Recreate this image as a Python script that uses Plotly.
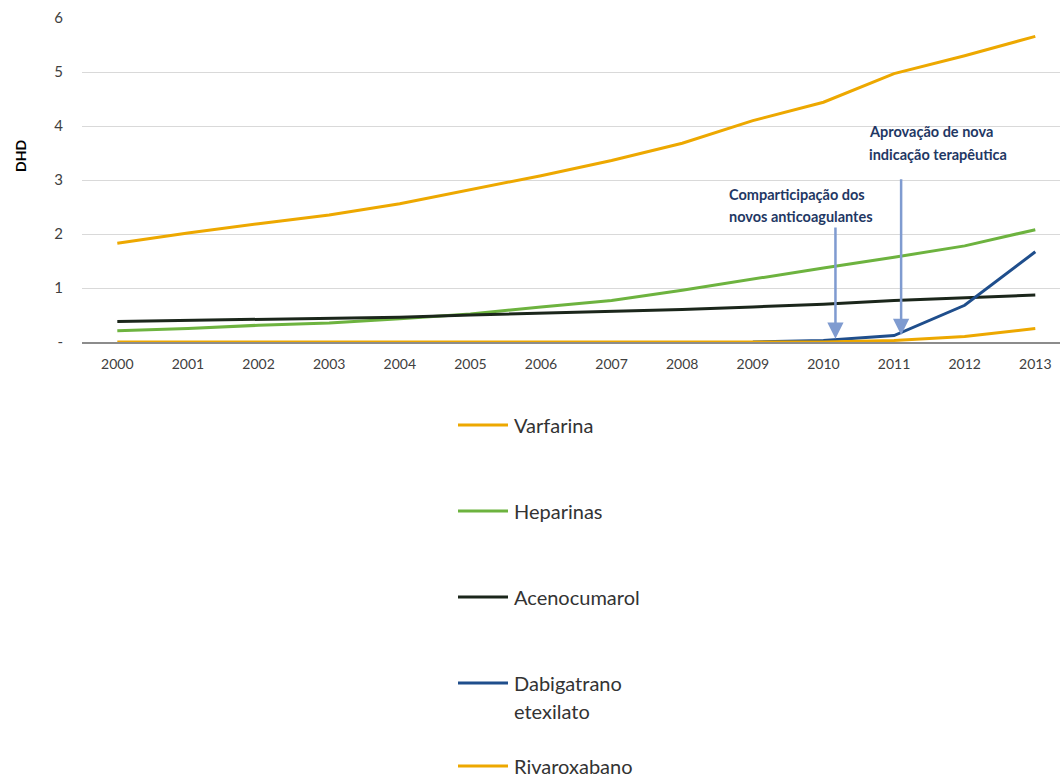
import plotly.graph_objects as go

# Consumption of oral anticoagulants and heparins, DHD, 2000-2013
years = list(range(2000, 2014))

varfarina = [1.83, 2.02, 2.19, 2.35, 2.56, 2.82, 3.08, 3.36, 3.68, 4.10, 4.44, 4.97, 5.30, 5.66]
heparinas = [0.21, 0.25, 0.31, 0.35, 0.43, 0.52, 0.65, 0.77, 0.96, 1.17, 1.37, 1.57, 1.78, 2.08]
acenocumarol = [0.38, 0.40, 0.42, 0.43, 0.46, 0.50, 0.53, 0.56, 0.60, 0.65, 0.70, 0.77, 0.82, 0.87]
dabigatrano = [None, None, None, None, None, None, None, None, None, 0.0, 0.03, 0.12, 0.68, 1.67]
rivaroxabano = [0.0, 0.0, 0.0, 0.0, 0.0, 0.0, 0.0, 0.0, 0.0, 0.0, 0.0, 0.03, 0.10, 0.25]

series_names = ["Varfarina", "Heparinas", "Acenocumarol", "Dabigatrano etexilato", "Rivaroxabano"]
legend_lines = [["Varfarina"], ["Heparinas"], ["Acenocumarol"], ["Dabigatrano", "etexilato"], ["Rivaroxabano"]]
series_values = [varfarina, heparinas, acenocumarol, dabigatrano, rivaroxabano]
series_colors = ["#EDA800", "#6DB33F", "#1B261B", "#1F4E8C", "#EDA800"]

y_tickvals = [0, 1, 2, 3, 4, 5, 6]
y_ticktext = ["-", "1", "2", "3", "4", "5", "6"]
y_title = "DHD"

# Event markers: text lines, arrow year, arrow tip / tail values, text year, first-line value
events = [
    (["Comparticipação dos", "novos anticoagulantes"], 2010.17, 0.06, 2.15, 2008.64, 2.74),
    (["Aprovação de nova", "indicação terapêutica"], 2011.1, 0.13, 3.04, 2010.62, 3.89),
]
EVENT_LINE_STEP = 0.42  # vertical spacing between text lines, in DHD units

FONT = "Lato"

# Plot area geometry (pixels) used for the legend block below the chart
FIG_W, FIG_H = 1060, 778
M_L, M_R, M_T, M_B = 82, 0, 18, 436
PLOT_W = FIG_W - M_L - M_R
PLOT_H = FIG_H - M_T - M_B


def px_to_paper_x(px):
    return (px - M_L) / PLOT_W


def px_to_paper_y(py):
    return (FIG_H - M_B - py) / PLOT_H


fig = go.Figure()
for name, vals, col in zip(series_names, series_values, series_colors):
    fig.add_trace(go.Scatter(
        x=years, y=vals, name=name, mode="lines",
        line=dict(color=col, width=3),
        showlegend=False,
    ))

for lines, xa, ytip, ytail, xt, yt in events:
    fig.add_annotation(
        x=xa, y=ytip, ax=xa, ay=ytail, xref="x", yref="y", axref="x", ayref="y",
        showarrow=True, arrowhead=2, arrowsize=1.3, arrowwidth=2.5,
        arrowcolor="#7F9BD0", text="",
    )
    for i, line in enumerate(lines):
        fig.add_annotation(
            x=xt, y=yt - i * EVENT_LINE_STEP, xref="x", yref="y", text=line,
            showarrow=False, xanchor="left", yanchor="middle", align="left",
            font=dict(family=FONT, size=14.5, color="#1F3864", weight="bold"),
        )

# Y-axis title, placed a little above the vertical centre of the plot
fig.add_annotation(
    x=px_to_paper_x(20), y=px_to_paper_y(156), xref="paper", yref="paper",
    text=f"<b>{y_title}</b>", textangle=-90, showarrow=False,
    xanchor="center", yanchor="middle",
    font=dict(family=FONT, size=14, color="#000000"),
)

# Vertical legend below the plot
legend_row_px = [425, 511, 597, 683, 766]
LEG_LINE_X0, LEG_LINE_X1, LEG_TEXT_X = 458, 508, 512
LEG_LINE_STEP = 28
for lines, col, row in zip(legend_lines, series_colors, legend_row_px):
    fig.add_shape(
        type="line", xref="paper", yref="paper",
        x0=px_to_paper_x(LEG_LINE_X0), x1=px_to_paper_x(LEG_LINE_X1),
        y0=px_to_paper_y(row), y1=px_to_paper_y(row),
        line=dict(color=col, width=3),
    )
    for i, line in enumerate(lines):
        fig.add_annotation(
            x=px_to_paper_x(LEG_TEXT_X), y=px_to_paper_y(row + i * LEG_LINE_STEP),
            xref="paper", yref="paper", text=line, showarrow=False,
            xanchor="left", yanchor="middle", align="left",
            font=dict(family=FONT, size=20, color="#333333"),
        )

fig.update_layout(
    width=FIG_W, height=FIG_H,
    margin=dict(l=M_L, r=M_R, t=M_T, b=M_B, autoexpand=False),
    plot_bgcolor="white", paper_bgcolor="white",
    font=dict(family=FONT, color="#404040"),
    showlegend=False,
    xaxis=dict(
        range=[1999.5, 2013.35], tickmode="array", tickvals=years,
        ticktext=[str(y) for y in years],
        showgrid=False, zeroline=False, showline=True,
        linecolor="#8C8C8C", linewidth=1.5, ticks="",
        tickfont=dict(family=FONT, size=14, color="#404040"),
        ticklabelstandoff=8,
    ),
    yaxis=dict(
        range=[0, 6], tickmode="array", tickvals=y_tickvals, ticktext=y_ticktext,
        showgrid=True, gridcolor="#D9D9D9", gridwidth=1, zeroline=False,
        showline=False, ticks="",
        tickfont=dict(family=FONT, size=15, color="#404040"),
        ticklabelstandoff=18,
    ),
)

fig.write_html("out.html")
